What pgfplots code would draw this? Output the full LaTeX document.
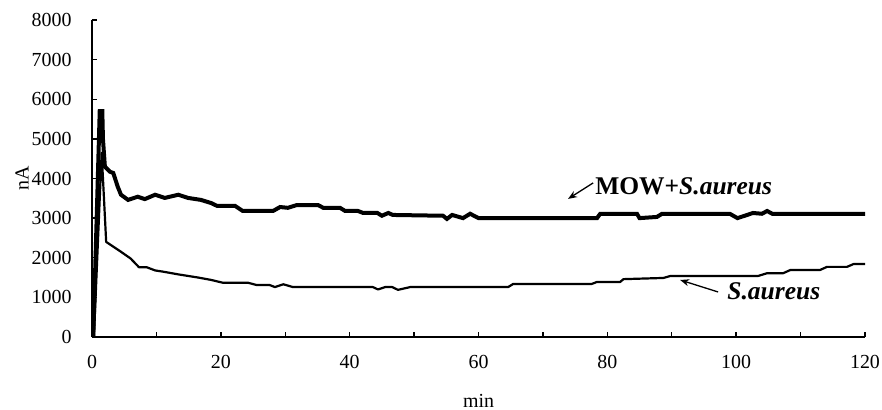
\documentclass[border=0pt]{standalone}
\usepackage{pgfplots}
\pgfplotsset{compat=1.18}
\usepackage{fontspec}
\setmainfont{Liberation Serif}
\usetikzlibrary{arrows.meta}
\newcommand{\tickfont}{\fontsize{20}{24}\selectfont}
\begin{document}
\begin{tikzpicture}
\begin{axis}[
  scale only axis, width=773bp, height=317bp,
  xmin=0, xmax=120, ymin=0, ymax=8000,
  axis x line*=bottom, axis y line*=left,
  axis line style={line width=1.6bp},
  xtick={0,20,...,120}, minor xtick={10,30,...,110},
  ytick={0,1000,...,8000},
  tick align=inside, major tick length=5bp, minor tick length=5bp,
  every tick/.style={line width=1.4bp, black},
  minor tick style={line width=1.4bp, black},
  /pgf/number format/assume math mode=true,
  /pgf/number format/set thousands separator={},
  scaled y ticks=false,
  tick label style={font=\tickfont},
  yticklabel style={font=\tickfont, xshift=-17bp},
  xticklabel style={font=\tickfont, yshift=-15bp},
  xlabel={min}, ylabel={nA},
  every axis label/.append style={font=\tickfont},
  xlabel style={font=\tickfont, at={(rel axis cs:0.5,0)}, anchor=base, yshift=-70bp},
  ylabel style={font=\tickfont, at={(rel axis cs:0,0.5)}, anchor=center, yshift=70bp},
  clip=false,
]
\coordinate (bl) at (rel axis cs:0,0);
% S.aureus
\addplot[black, line width=2.2bp, line join=round] coordinates {
(0.3,0) (1.5,4650) (2.2,2400) (4.5,2150) (6,1980) (7.3,1760) (8.5,1760) (9.8,1680) (11,1650) (13.4,1580) (16.5,1500) (18.5,1440) (20.3,1370) (24.2,1370) (25.6,1310) (27.6,1310) (28.4,1260) (29.7,1330) (31.2,1260) (43.6,1260) (44.4,1200) (45.5,1260) (46.6,1260) (47.5,1190) (49.4,1260) (64.6,1260) (65.4,1340) (77.6,1340) (78.4,1390) (82,1390) (82.5,1460) (88.7,1490) (89.8,1540) (103.4,1540) (104.8,1610) (107.3,1610) (108.4,1690) (113,1690) (114.1,1770) (117.2,1770) (118.2,1840) (120,1840)
};
% MOW + S.aureus
\addplot[black, line width=4bp, line join=miter] coordinates {
(0.2,0) (1.2,5700) (1.6,5700) (1.7,5000) (2,4300) (2.8,4170) (3.3,4140) (4,3790) (4.5,3590) (5.6,3460) (7.1,3540) (8.2,3480) (9.8,3590) (11.3,3510) (13.4,3590) (14.9,3510) (16.9,3460) (18.5,3380) (19.4,3310) (22.2,3310) (23.4,3180) (28.1,3180) (29.2,3280) (30.4,3260) (31.8,3330) (35.1,3330) (35.9,3260) (38.5,3260) (39.3,3180) (41.3,3180) (42.1,3130) (44.3,3130) (45,3060) (46,3130) (46.7,3080) (54.5,3060) (55.1,2980) (55.9,3080) (57.6,3000) (58.7,3110) (60,3000) (78.4,3000) (78.9,3110) (84.6,3110) (85,3000) (87.7,3030) (88.5,3110) (99,3110) (100.2,3000) (101.7,3080) (102.6,3130) (104,3110) (104.8,3180) (105.6,3110) (120,3110)
};
\node[anchor=base west, font=\fontsize{25.5bp}{30bp}\selectfont\bfseries, inner sep=0pt] at (axis cs:78.1,3586) {MOW+\textit{S.aureus}};
\node[anchor=base west, font=\fontsize{25.5bp}{30bp}\selectfont\bfseries\itshape, inner sep=0pt] at (axis cs:98.6,934) {S.aureus};
\draw[-{Stealth[length=9bp,width=7bp]}, line width=1.3bp] (axis cs:77.8,3889) -- (axis cs:73.9,3485);
\draw[-{Stealth[length=9bp,width=7bp]}, line width=1.3bp] (axis cs:97.2,1136) -- (axis cs:91.3,1439);
\end{axis}
\pgfresetboundingbox
\path ([shift={(-92bp,-73bp)}]bl) rectangle ([shift={(790bp,337bp)}]bl);
\end{tikzpicture}
\end{document}
